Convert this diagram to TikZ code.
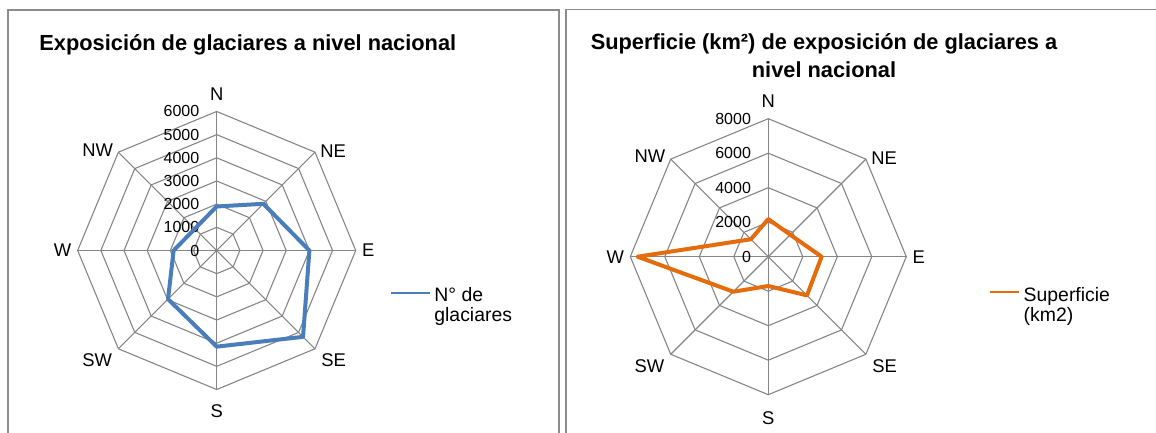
\documentclass[tikz,border=0pt]{standalone}
\usepackage{fontspec}
\setmainfont{Liberation Sans}
\usepackage{xcolor}
\usepackage{tikz}

\definecolor{serieblue}{HTML}{4A7EBB}
\definecolor{serieorange}{HTML}{E46C0A}
\definecolor{gridgray}{HTML}{868686}
\definecolor{framegray}{HTML}{8C8C8C}

\begin{document}
\begin{tikzpicture}[x=0.5pt,y=0.5pt,
    gridline/.style={draw=gridgray,line width=0.55pt},
    frame/.style={draw=framegray,line width=0.8pt},
    serie/.style={line width=2pt,line join=round},
    legline/.style={line width=1.1pt},
    title/.style={font=\fontsize{10.9}{13}\selectfont\bfseries,inner sep=0pt},
    axlabel/.style={font=\fontsize{9.2}{11}\selectfont,inner sep=0pt},
    ticklabel/.style={font=\fontsize{8}{10}\selectfont,inner sep=0pt,anchor=east},
    legtext/.style={font=\fontsize{9.7}{12}\selectfont,inner sep=0pt,anchor=base west}]
\useasboundingbox (0,0) rectangle (1156,433);
\clip (0,0) rectangle (1156,433);
% chart areas
\draw[frame] (8,423) rectangle (559,-20);
\draw[frame] (566,423.5) rectangle (1180,-20);

% left chart
\node[title,anchor=base west] (ltitle) at (39,382.6) {Exposición de glaciares a nivel nacional};
\begin{scope}[shift={(216.7,182.5)}]
    \coordinate (lc) at (0,0);
    \foreach \k in {1,...,6}
        \draw[gridline] (0:\k*23.17) \foreach \a in {45,90,...,315} {-- (\a:\k*23.17)} -- cycle;
    \foreach \a in {0,45,...,315}
        \draw[gridline] (lc) -- (\a:139);
    \foreach \v [count=\k from 0] in {0,1000,...,6000}
        \node[ticklabel] (lt-\k) at (-17,\k*23.17) {\v};
    \foreach \a/\d/\anc/\dx/\dy in {90/N/center/0/8.5, 45/NE/west/2.5/0.5, 0/E/west/3/0,
        -45/SE/west/3/-5.5, -90/S/center/0/-11, -135/SW/east/-3/-5.5, 180/W/east/-3/0, 135/NW/east/-2.5/1}
        \node[axlabel,anchor=\anc,xshift=\dx pt,yshift=\dy pt] (la-\d) at (\a:139) {\d};
    \foreach \a/\v in {90/1.9,45/2.85,0/4.0,-45/5.27,-90/4.15,-135/2.97,180/1.86,135/1.33}
        \coordinate (lp\a) at (\a:\v*23.17);
    \draw[serie,serieblue] (lp90) -- (lp45) -- (lp0) -- (lp-45) -- (lp-90) -- (lp-135) -- (lp180) -- (lp135) -- cycle;
\end{scope}
\coordinate (ll1) at (391,140.3);
\coordinate (ll2) at (430,140.3);
\draw[legline,serieblue] (ll1) -- (ll2);
\node[legtext] (lleg1) at (434,131) {N° de};
\node[legtext] (lleg2) at (434,111) {glaciares};

% right chart
\node[title,anchor=base] (rtitle1) at (824,383.2) {Superficie (km²) de exposición de glaciares a};
\node[title,anchor=base] (rtitle2) at (824,355.2) {nivel nacional};
\begin{scope}[shift={(768.3,176.3)}]
    \coordinate (rc) at (0,0);
    \foreach \k in {1,...,4}
        \draw[gridline] (0:\k*34.5) \foreach \a in {45,90,...,315} {-- (\a:\k*34.5)} -- cycle;
    \foreach \a in {0,45,...,315}
        \draw[gridline] (rc) -- (\a:138);
    \foreach \v [count=\k from 0] in {0,2000,...,8000}
        \node[ticklabel] (rt-\k) at (-17,\k*34.5) {\v};
    \foreach \a/\d/\anc/\dx/\dy in {90/N/center/0/9, 45/NE/west/2.5/0.5, 0/E/west/3/0,
        -45/SE/west/3/-6, -90/S/center/0/-11.5, -135/SW/east/-3/-6, 180/W/east/-3/0, 135/NW/east/-2.5/1.5}
        \node[axlabel,anchor=\anc,xshift=\dx pt,yshift=\dy pt] (ra-\d) at (\a:138) {\d};
    \foreach \a/\v in {90/1.09,45/0.90,0/1.545,-45/1.585,-90/0.85,-135/1.435,180/3.79,135/0.715}
        \coordinate (rp\a) at (\a:\v*34.5);
    \draw[serie,serieorange] (rp90) -- (rp45) -- (rp0) -- (rp-45) -- (rp-90) -- (rp-135) -- (rp180) -- (rp135) -- cycle;
\end{scope}
\coordinate (rl1) at (990,140.7);
\coordinate (rl2) at (1019.3,140.7);
\draw[legline,serieorange] (rl1) -- (rl2);
\node[legtext] (rleg1) at (1023.3,131) {Superficie};
\node[legtext] (rleg2) at (1023.3,111) {(km2)};
\end{tikzpicture}
\end{document}
